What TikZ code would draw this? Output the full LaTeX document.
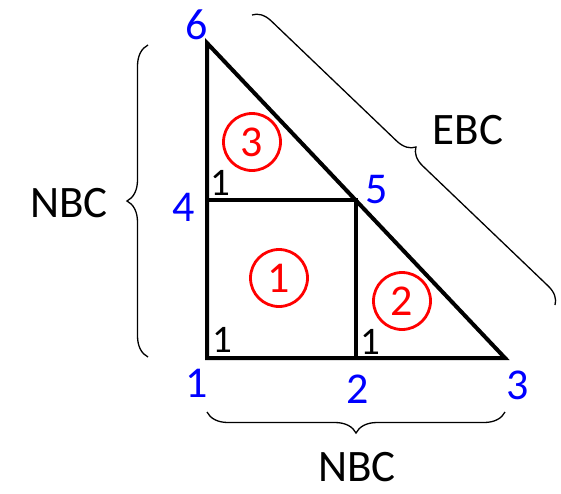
\documentclass[tikz,border=0pt]{standalone}
\usepackage{fontspec}
\setmainfont{Carlito}
\usetikzlibrary{decorations.pathreplacing}
\begin{document}
\begin{tikzpicture}[x=1pt,y=-1pt,
  edge/.style={line width=4pt, line join=miter, line cap=rect},
  vlabel/.style={text=blue, font=\fontsize{44}{52}\selectfont, inner sep=0pt},
  onelabel/.style={text=black, font=\fontsize{39}{46}\selectfont, inner sep=0pt},
  elem/.style={circle, draw=red, line width=2.8pt, minimum size=57pt, inner sep=0pt, text=red, font=\fontsize{44}{52}\selectfont},
  bctext/.style={text=black, font=\fontsize{45}{54}\selectfont, inner sep=0pt},
  bracestyle/.style={decorate, decoration={brace, amplitude=#1}, line width=1.3pt},
]
\useasboundingbox (0,0) rectangle (561,493);
% vertices
\coordinate (v1) at (207,358);
\coordinate (v2) at (356,358);
\coordinate (v3) at (505,358);
\coordinate (v4) at (207,200);
\coordinate (v5) at (356,200);
\coordinate (v6) at (207,43);
% mesh
\draw[edge] (v1) -- (v3) -- (v6) -- cycle;
\draw[edge] (v4) -- (v5) -- (v2);
% node numbers
\node[vlabel] (l6) at (197,25) {6};
\node[vlabel] (l4) at (184,207) {4};
\node[vlabel] (l5) at (377,190) {5};
\node[vlabel] (l1) at (197,383) {1};
\node[vlabel] (l2) at (358,389) {2};
\node[vlabel] (l3) at (518,385) {3};
% local numbers
\node[onelabel] (o4) at (220,183) {1};
\node[onelabel] (o1) at (222,340) {1};
\node[onelabel] (o2) at (370,342) {1};
% element numbers
\node[elem] (e3) at (252,142) {3};
\node[elem] (e1) at (279,278) {1};
\node[elem] (e2) at (402,301) {2};
% braces
\coordinate (bla) at (148,357);
\coordinate (blb) at (148,45);
\draw[bracestyle=21pt] (bla) -- (blb);
\coordinate (bba) at (505,412);
\coordinate (bbb) at (207,412);
\draw[bracestyle=21pt] (bba) -- (bbb);
\coordinate (bda) at (252,15);
\coordinate (bdb) at (555,305);
\draw[bracestyle=18pt] (bda) -- (bdb);
% brace labels
\node[bctext] (nbcl) at (69,203) {NBC};
\node[bctext] (ebc) at (468,130) {EBC};
\node[bctext] (nbcb) at (357,467) {NBC};
\end{tikzpicture}
\end{document}
